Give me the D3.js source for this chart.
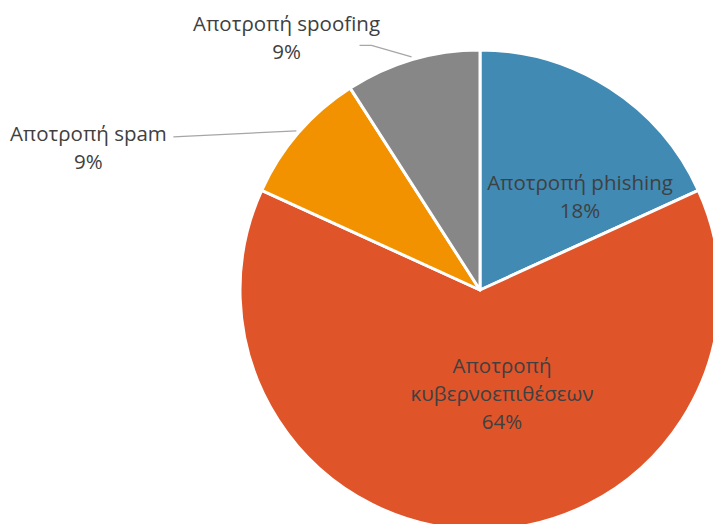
<!DOCTYPE html>
<html><head><meta charset="utf-8">
<script src="https://cdn.jsdelivr.net/npm/d3@7"></script>
<style>html,body{margin:0;padding:0;background:#fff;overflow:hidden}</style>
</head><body>
<svg id="c" width="713" height="524"></svg>
<script>
const categories = ["Αποτροπή phishing", "Αποτροπή κυβερνοεπιθέσεων", "Αποτροπή spam", "Αποτροπή spoofing"];
const values = [2, 7, 1, 1];
const colors = ["#418AB3", "#E0542A", "#F39200", "#878787"];

const svg = d3.select("#c");
const cx = 480, cy = 290, R = 240;
const FONT = "Open Sans, sans-serif";
const FS = 20.5;
const lineH = 28;
const total = d3.sum(values);
const pct = v => Math.round(v / total * 100) + "%";

const pie = d3.pie().sort(null).value(d => d)(values);
const arc = d3.arc().innerRadius(0).outerRadius(R);
const g = svg.append("g").attr("transform", `translate(${cx},${cy})`);

g.selectAll("path.slice").data(pie).enter().append("path")
  .attr("class", "slice")
  .attr("d", arc)
  .attr("fill", (d, i) => colors[i])
  .attr("stroke", "#fff").attr("stroke-width", 3).attr("stroke-linejoin", "round");

function addLabel(x, y, lines) {
  const t = g.append("text").attr("text-anchor", "middle")
    .attr("font-family", FONT).attr("font-size", FS).attr("fill", "#404040");
  lines.forEach((l, k) => {
    t.append("tspan").attr("x", x).attr("y", y + k * lineH).text(l);
  });
}
const pt = (a, r) => [Math.sin(a) * r, -Math.cos(a) * r];
const mid = d => (d.startAngle + d.endAngle) / 2;

// phishing (inside)
{
  const [x, y] = pt(mid(pie[0]), 136);
  addLabel(x + 26.5, y + 14.4, [categories[0], pct(values[0])]);
}
// cyber (inside, wrapped)
{
  const [x, y] = pt(mid(pie[1]), 103);
  addLabel(x + 22, y - 20, ["Αποτροπή", "κυβερνοεπιθέσεων", pct(values[1])]);
}
// spam (outside, leader line)
{
  const e = pt(mid(pie[2]), R + 3);
  const lx = e[0] - 208, ly = e[1] + 10;
  g.append("polyline").attr("fill", "none").attr("stroke", "#A6A6A6").attr("stroke-width", 1.3)
    .attr("points", [[lx + 85, ly - 4], e].map(p => p.join(",")).join(" "));
  addLabel(lx, ly, [categories[2], pct(values[2])]);
}
// spoofing (outside, leader line)
{
  const e = pt(mid(pie[3]), R + 3);
  const lx = e[0] - 125, ly = e[1] - 26;
  g.append("polyline").attr("fill", "none").attr("stroke", "#A6A6A6").attr("stroke-width", 1.3)
    .attr("points", [[lx + 73, ly + 14.5], [lx + 85, ly + 14.5], e].map(p => p.join(",")).join(" "));
  addLabel(lx, ly, [categories[3], pct(values[3])]);
}
</script>
</body></html>
